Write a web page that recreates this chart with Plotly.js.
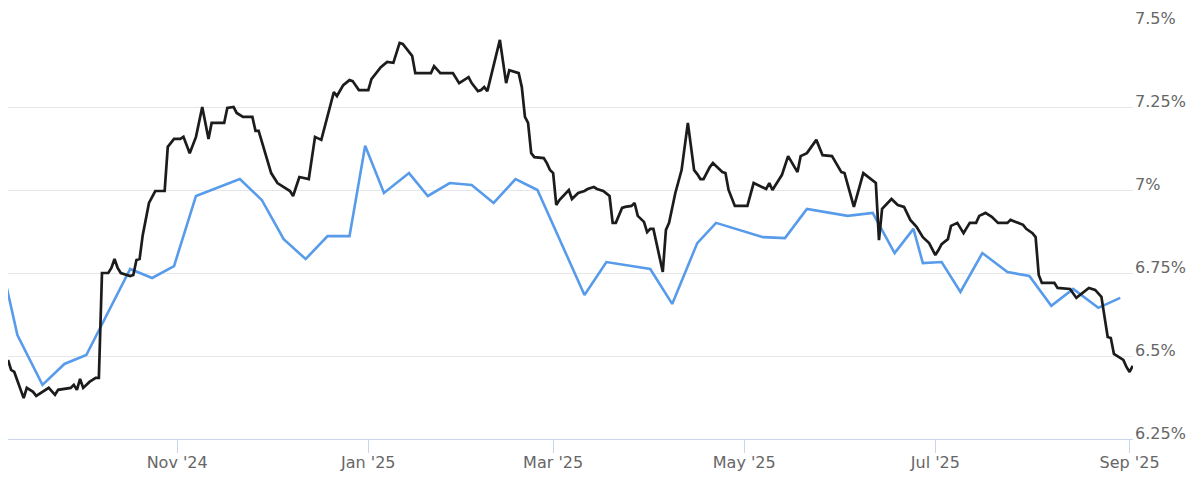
<!DOCTYPE html>
<html>
<head>
<meta charset="utf-8">
<script src="https://cdn.plot.ly/plotly-3.0.1.min.js"></script>
<style>
  html, body { margin: 0; padding: 0; background: #ffffff; }
  #chart { width: 1200px; height: 493px; }
</style>
</head>
<body>
<div id="chart"></div>
<script>
// Daily rate series (black)
const dailyDates = [
  '2024-09-08','2024-09-09','2024-09-10','2024-09-13','2024-09-14','2024-09-16','2024-09-17','2024-09-19','2024-09-21','2024-09-23',
  '2024-09-24','2024-09-28','2024-09-29','2024-09-30','2024-10-01','2024-10-02','2024-10-04','2024-10-06','2024-10-07','2024-10-08',
  '2024-10-10','2024-10-11','2024-10-12','2024-10-13','2024-10-14','2024-10-17','2024-10-18','2024-10-19','2024-10-20','2024-10-21',
  '2024-10-22','2024-10-23','2024-10-25','2024-10-28','2024-10-29','2024-10-31','2024-11-02','2024-11-03','2024-11-05','2024-11-07',
  '2024-11-09','2024-11-11','2024-11-12','2024-11-16','2024-11-17','2024-11-19','2024-11-20','2024-11-22','2024-11-25','2024-11-26',
  '2024-11-27','2024-12-01','2024-12-03','2024-12-06','2024-12-07','2024-12-08','2024-12-10','2024-12-13','2024-12-15','2024-12-17',
  '2024-12-21','2024-12-22','2024-12-24','2024-12-26','2024-12-27','2024-12-29','2025-01-01','2025-01-02','2025-01-05','2025-01-07',
  '2025-01-09','2025-01-10','2025-01-11','2025-01-12','2025-01-15','2025-01-16','2025-01-21','2025-01-22','2025-01-24','2025-01-28',
  '2025-01-30','2025-02-02','2025-02-03','2025-02-05','2025-02-06','2025-02-07','2025-02-08','2025-02-12','2025-02-14','2025-02-15',
  '2025-02-18','2025-02-19','2025-02-20','2025-02-21','2025-02-22','2025-02-23','2025-02-26','2025-02-27','2025-02-28','2025-03-01',
  '2025-03-02','2025-03-03','2025-03-06','2025-03-07','2025-03-09','2025-03-11','2025-03-12','2025-03-14','2025-03-15','2025-03-17',
  '2025-03-19','2025-03-20','2025-03-21','2025-03-23','2025-03-24','2025-03-26','2025-03-27','2025-03-28','2025-03-30','2025-03-31',
  '2025-04-01','2025-04-02','2025-04-05','2025-04-06','2025-04-07','2025-04-09','2025-04-11','2025-04-13','2025-04-15','2025-04-16',
  '2025-04-17','2025-04-18','2025-04-20','2025-04-21','2025-04-24','2025-04-25','2025-04-26','2025-04-28','2025-05-02','2025-05-04',
  '2025-05-08','2025-05-09','2025-05-10','2025-05-12','2025-05-13','2025-05-15','2025-05-18','2025-05-19','2025-05-21','2025-05-24',
  '2025-05-26','2025-05-29','2025-06-01','2025-06-02','2025-06-05','2025-06-08','2025-06-12','2025-06-13','2025-06-14','2025-06-17',
  '2025-06-19','2025-06-21','2025-06-23','2025-06-25','2025-06-27','2025-06-29','2025-07-01','2025-07-02','2025-07-03','2025-07-05',
  '2025-07-06','2025-07-08','2025-07-10','2025-07-11','2025-07-12','2025-07-14','2025-07-15','2025-07-17','2025-07-19','2025-07-21',
  '2025-07-24','2025-07-25','2025-07-29','2025-07-30','2025-08-01','2025-08-02','2025-08-03','2025-08-04','2025-08-08','2025-08-09',
  '2025-08-13','2025-08-15','2025-08-17','2025-08-19','2025-08-21','2025-08-23','2025-08-25','2025-08-26','2025-08-27','2025-08-30',
  '2025-08-31','2025-09-01','2025-09-02'
];
const dailyRates = [
  6.488,6.458,6.452,6.373,6.404,6.392,6.380,6.392,6.404,6.383,
  6.398,6.404,6.413,6.398,6.431,6.404,6.422,6.434,6.434,6.750,
  6.750,6.765,6.792,6.765,6.750,6.741,6.744,6.789,6.792,6.864,
  6.910,6.961,6.997,6.997,7.130,7.154,7.154,7.160,7.111,7.160,
  7.250,7.154,7.202,7.202,7.247,7.250,7.232,7.220,7.220,7.178,
  7.178,7.051,7.021,7.003,6.997,6.982,7.039,7.033,7.160,7.151,
  7.295,7.283,7.316,7.331,7.328,7.301,7.301,7.334,7.370,7.386,
  7.383,7.413,7.443,7.440,7.404,7.352,7.352,7.373,7.352,7.352,
  7.322,7.340,7.322,7.298,7.301,7.310,7.298,7.452,7.322,7.361,
  7.352,7.310,7.220,7.202,7.111,7.099,7.096,7.081,7.060,7.051,
  6.955,6.970,7.000,6.973,6.991,6.997,7.003,7.009,7.003,6.997,
  6.982,6.901,6.901,6.946,6.949,6.952,6.961,6.922,6.904,6.873,
  6.883,6.883,6.753,6.880,6.901,6.991,7.060,7.202,7.060,7.048,
  7.033,7.033,7.069,7.081,7.054,7.051,7.000,6.952,6.952,7.021,
  7.003,7.021,7.000,7.030,7.045,7.102,7.054,7.102,7.111,7.151,
  7.105,7.102,7.054,7.051,6.949,7.051,7.021,6.849,6.943,6.973,
  6.955,6.949,6.910,6.889,6.858,6.840,6.804,6.819,6.837,6.852,
  6.892,6.901,6.870,6.886,6.901,6.901,6.922,6.931,6.919,6.901,
  6.901,6.910,6.895,6.883,6.870,6.858,6.744,6.720,6.720,6.705,
  6.702,6.675,6.690,6.705,6.699,6.678,6.557,6.554,6.506,6.488,
  6.467,6.452,6.470
];

// Weekly rate series (blue)
const weeklyDates = [
  '2024-09-04','2024-09-11','2024-09-19','2024-09-26','2024-10-03','2024-10-17','2024-10-24','2024-10-31','2024-11-07','2024-11-21',
  '2024-11-28','2024-12-05','2024-12-12','2024-12-19','2024-12-26','2024-12-31','2025-01-06','2025-01-14','2025-01-20','2025-01-27',
  '2025-02-03','2025-02-10','2025-02-17','2025-02-24','2025-03-11','2025-03-18','2025-04-01','2025-04-08','2025-04-16','2025-04-22',
  '2025-05-07','2025-05-14','2025-05-21','2025-06-03','2025-06-11','2025-06-18','2025-06-24','2025-06-27','2025-07-03','2025-07-09',
  '2025-07-16','2025-07-24','2025-07-31','2025-08-07','2025-08-14','2025-08-22','2025-08-29'
];
const weeklyRates = [
  6.858,6.563,6.413,6.476,6.503,6.762,6.735,6.771,6.982,7.033,
  6.970,6.852,6.792,6.861,6.861,7.133,6.991,7.051,6.982,7.021,
  7.015,6.961,7.033,7.000,6.684,6.783,6.762,6.657,6.840,6.901,
  6.858,6.855,6.943,6.922,6.931,6.810,6.883,6.780,6.783,6.693,
  6.810,6.753,6.741,6.651,6.702,6.645,6.675
];

// Axis ticks
const yTickVals = [6.25, 6.5, 6.75, 7, 7.25, 7.5];
const yTickText = ['6.25%', '6.5%', '6.75%', '7%', '7.25%', '7.5%'];

const labelFont = { family: 'DejaVu Sans, Verdana, sans-serif', size: 16, color: '#666666' };

const traces = [
  {
    x: weeklyDates, y: weeklyRates, type: 'scatter', mode: 'lines',
    line: { color: '#579bea', width: 2.6 }, hoverinfo: 'skip'
  },
  {
    x: dailyDates, y: dailyRates, type: 'scatter', mode: 'lines',
    line: { color: '#1c1c1c', width: 2.7 }, hoverinfo: 'skip'
  }
];

const layout = {
  width: 1200, height: 493,
  margin: { l: 8, r: 67, t: 24, b: 54 },
  paper_bgcolor: '#ffffff', plot_bgcolor: '#ffffff',
  showlegend: false,
  xaxis: {
    type: 'date',
    range: ['2024-09-08', '2025-09-02 02:00'],
    tick0: '2024-11-01', dtick: 'M2', tickformat: "%b '%y",
    ticks: 'outside', ticklen: 13, tickwidth: 1, tickcolor: '#ccd6eb',
    showgrid: false, zeroline: false,
    showline: true, linecolor: '#ccd6eb', linewidth: 1,
    tickfont: labelFont, ticklabelstandoff: -4, fixedrange: true
  },
  yaxis: {
    side: 'right',
    range: [6.25, 7.5],
    tickvals: yTickVals, ticktext: yTickText,
    showgrid: true, gridcolor: '#e6e6e6', gridwidth: 1,
    zeroline: false, showline: false, ticks: '',
    tickfont: labelFont, ticklabelshift: -6, ticklabelstandoff: 1,
    fixedrange: true
  }
};

Plotly.newPlot('chart', traces, layout, { staticPlot: true, displayModeBar: false });
</script>
</body>
</html>
